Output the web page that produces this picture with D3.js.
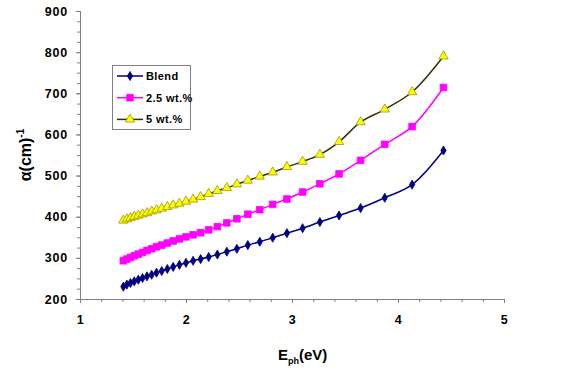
<!DOCTYPE html>
<html>
<head>
<meta charset="utf-8">
<script src="https://cdn.jsdelivr.net/npm/d3@7"></script>
<style>
  body { margin: 0; background: #fff; }
  svg { display: block; font-family: "Liberation Sans", Arial, sans-serif; }
</style>
</head>
<body>
<svg id="chart" width="564" height="376"></svg>
<script>
// photon energy (eV)
var energy = [1.409, 1.442, 1.476, 1.512, 1.550, 1.590, 1.632, 1.676, 1.722, 1.771,
  1.824, 1.879, 1.938, 2.000, 2.067, 2.138, 2.214, 2.296, 2.385, 2.480,
  2.583, 2.696, 2.818, 2.952, 3.100, 3.263, 3.444, 3.647, 3.875, 4.133, 4.429];

var blend = [230, 235, 239, 243, 247, 251, 255, 259, 264, 268,
  273, 278, 283, 288, 293, 297, 302, 308, 315, 322,
  331, 339, 349, 360, 372, 387, 403, 421, 446, 478, 561];

var wt25 = [293, 297, 301, 305, 309, 313, 318, 322, 327, 331,
  336, 341, 346, 351, 356, 361, 368, 376, 385, 395,
  406, 417, 430, 443, 460, 480, 504, 537, 576, 619, 714];

var wt5 = [391, 394, 397, 400, 403, 406, 409, 413, 416, 420,
  424, 428, 432, 437, 442, 448, 456, 463, 470, 479,
  488, 498, 508, 521, 534, 551, 582, 630, 661, 703, 790];

var seriesNames = ["Blend", "2.5 wt.%", "5 wt.%"];
var xTicks = [1, 2, 3, 4, 5];
var yTicks = [200, 300, 400, 500, 600, 700, 800, 900];

var svg = d3.select("#chart");

var x = d3.scaleLinear().domain([1, 5]).range([80, 504]);
var y = d3.scaleLinear().domain([200, 900]).range([299, 11]);

var styles = [
  { line: "#000080", fill: "#000080", stroke: "#000080", type: d3.symbolDiamond, size: 24 },
  { line: "#ff00ff", fill: "#ff00ff", stroke: "#ff00ff", type: d3.symbolSquare, size: 44 },
  { line: "#333300", fill: "#ffff00", stroke: "#999900", type: d3.symbolTriangle, size: 38 }
];

var allSeries = [blend, wt25, wt5].map(function (vals, i) {
  return {
    name: seriesNames[i],
    style: styles[i],
    points: vals.map(function (v, j) { return { e: energy[j], v: v }; })
  };
});

// axes
var yAxis = svg.append("g").attr("transform", "translate(80,0)")
  .call(d3.axisLeft(y).tickValues(yTicks).tickSize(4).tickPadding(8).tickFormat(d3.format("d")));
var yMinor = svg.append("g").attr("transform", "translate(80,0)")
  .call(d3.axisLeft(y).tickValues(d3.range(200, 901, 25)).tickSize(3).tickFormat(""));
var xAxis = svg.append("g").attr("transform", "translate(0,299)")
  .call(d3.axisBottom(x).tickValues(xTicks).tickSize(4).tickPadding(12).tickFormat(d3.format("d")));
var xMinor = svg.append("g").attr("transform", "translate(0,299)")
  .call(d3.axisBottom(x).tickValues(d3.range(1, 5.01, 0.2)).tickSize(3).tickFormat(""));

[yAxis, yMinor, xAxis, xMinor].forEach(function (g) {
  g.selectAll("path.domain").attr("stroke", "#808080");
  g.selectAll("line").attr("stroke", "#808080");
  g.selectAll("text")
    .attr("fill", "#000")
    .style("font-size", "12.5px")
    .style("font-weight", "bold")
    .style("letter-spacing", "0.8px");
});

// lines and markers
var line = d3.line()
  .x(function (d) { return x(d.e); })
  .y(function (d) { return y(d.v); })
  .curve(d3.curveCatmullRom);

allSeries.forEach(function (s) {
  svg.append("path")
    .attr("d", line(s.points))
    .attr("fill", "none")
    .attr("stroke", s.style.line)
    .attr("stroke-width", 1.5);

  svg.append("g").selectAll("path")
    .data(s.points)
    .join("path")
    .attr("transform", function (d) { return "translate(" + x(d.e) + "," + y(d.v) + ")"; })
    .attr("d", d3.symbol().type(s.style.type).size(s.style.size))
    .attr("fill", s.style.fill)
    .attr("stroke", s.style.stroke)
    .attr("stroke-width", 0.8);
});

// legend
var legend = svg.append("g");
legend.append("rect")
  .attr("x", 112.5).attr("y", 65.5).attr("width", 78).attr("height", 64)
  .attr("fill", "#fff").attr("stroke", "#808080").attr("stroke-width", 1);

allSeries.forEach(function (s, i) {
  var ly = 76 + i * 21.7;
  legend.append("line")
    .attr("x1", 117).attr("x2", 143).attr("y1", ly).attr("y2", ly)
    .attr("stroke", s.style.line).attr("stroke-width", 1.5);
  legend.append("path")
    .attr("transform", "translate(130," + ly + ")")
    .attr("d", d3.symbol().type(s.style.type).size(s.style.size))
    .attr("fill", s.style.fill)
    .attr("stroke", s.style.stroke)
    .attr("stroke-width", 0.8);
  legend.append("text")
    .attr("x", 146).attr("y", ly + 4)
    .style("font-size", "11px").style("font-weight", "bold")
    .style("letter-spacing", "0.4px")
    .text(s.name);
});

// axis titles
var yTitle = svg.append("text")
  .attr("transform", "translate(31,155) rotate(-90)")
  .attr("text-anchor", "middle")
  .style("font-size", "16px").style("font-weight", "bold");
yTitle.append("tspan").text("α(cm)");
yTitle.append("tspan").attr("dy", -7).style("font-size", "10px").text("-1");

var xTitle = svg.append("text")
  .attr("x", 278).attr("y", 360)
  .style("font-size", "15px").style("font-weight", "bold");
xTitle.append("tspan").text("E");
xTitle.append("tspan").attr("dy", 4).style("font-size", "9px").text("ph");
xTitle.append("tspan").attr("dy", -4).text("(eV)");
</script>
</body>
</html>
